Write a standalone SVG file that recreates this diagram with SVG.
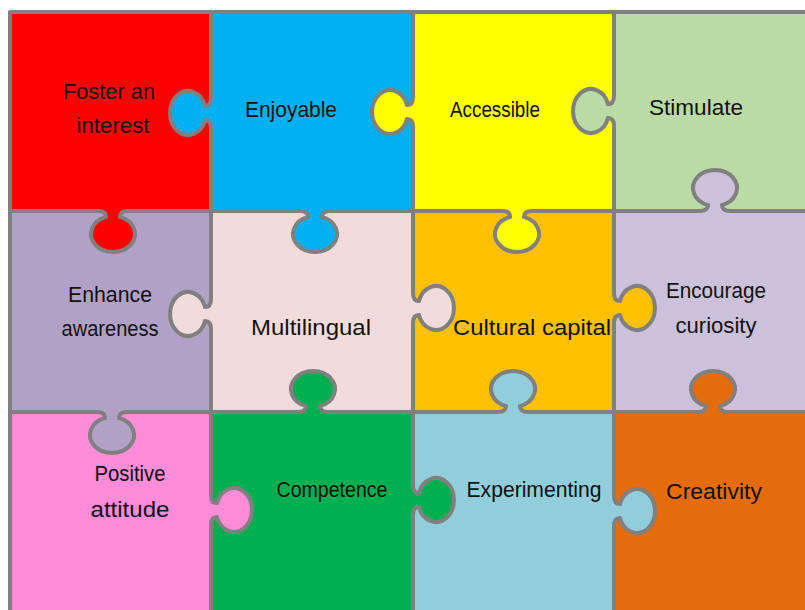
<svg xmlns="http://www.w3.org/2000/svg" xmlns:xlink="http://www.w3.org/1999/xlink" width="805" height="610" viewBox="0 0 805 610">
<style>
.ln{stroke:#808080;stroke-width:4;fill:none;stroke-linecap:round}
.ks{stroke:#808080;stroke-width:4;fill:none;stroke-linecap:round}
.lbl{font-family:"Liberation Sans","DejaVu Sans",sans-serif;font-size:22px;fill:#111;text-anchor:middle}
</style>
<defs>
<path id="kf" d="M-15,-3 L-15,0 Q-7,0 -7,5.9 A22 18 0 1 0 7,5.9 Q7,0 15,0 L15,-3 Z"/>
<path id="ks" d="M-15,0 Q-7,0 -7,5.9 A22 18 0 1 0 7,5.9 Q7,0 15,0"/>
</defs>
<rect width="805" height="610" fill="#fff"/>
<g id="backgrounds">
<rect id="bg-foster" x="10" y="12" width="201" height="199" fill="#FF0000"/>
<rect id="bg-enjoyable" x="211" y="12" width="202" height="199" fill="#00B0F0"/>
<rect id="bg-accessible" x="413" y="12" width="201" height="199" fill="#FFFF00"/>
<rect id="bg-stimulate" x="614" y="12" width="191" height="199" fill="#BADBA5"/>
<rect id="bg-enhance" x="10" y="211" width="201" height="201" fill="#B1A1C7"/>
<rect id="bg-multilingual" x="211" y="211" width="202" height="201" fill="#F2DCDB"/>
<rect id="bg-cultural" x="413" y="211" width="201" height="201" fill="#FFC000"/>
<rect id="bg-encourage" x="614" y="211" width="191" height="201" fill="#CCC1DA"/>
<rect id="bg-positive" x="10" y="412" width="201" height="198" fill="#FF8CD8"/>
<rect id="bg-competence" x="211" y="412" width="202" height="198" fill="#00B050"/>
<rect id="bg-experimenting" x="413" y="412" width="201" height="198" fill="#92CDDC"/>
<rect id="bg-creativity" x="614" y="412" width="191" height="198" fill="#E46C0A"/>
</g>
<g id="connectors">
<path class="ln" d="M10,12 H805 M10,12 V612 M211,12 V612 M413,12 V612 M614,12 V612 M10,211 H807 M10,412 H807"/>
</g>
<g id="tabs">
<g transform="translate(211,113) rotate(90)"><rect x="-15" y="0" width="30" height="3" fill="#FF0000"/><use xlink:href="#kf" fill="#00B0F0"/><use xlink:href="#ks" class="ks"/></g>
<g transform="translate(413,112) rotate(90)"><rect x="-15" y="0" width="30" height="3" fill="#00B0F0"/><use xlink:href="#kf" fill="#FFFF00"/><use xlink:href="#ks" class="ks"/></g>
<g transform="translate(614,111) rotate(90)"><rect x="-15" y="0" width="30" height="3" fill="#FFFF00"/><use xlink:href="#kf" fill="#BADBA5"/><use xlink:href="#ks" class="ks"/></g>
<g transform="translate(113,211)"><rect x="-15" y="0" width="30" height="3" fill="#B1A1C7"/><use xlink:href="#kf" fill="#FF0000"/><use xlink:href="#ks" class="ks"/></g>
<g transform="translate(315,211)"><rect x="-15" y="0" width="30" height="3" fill="#F2DCDB"/><use xlink:href="#kf" fill="#00B0F0"/><use xlink:href="#ks" class="ks"/></g>
<g transform="translate(517,211)"><rect x="-15" y="0" width="30" height="3" fill="#FFC000"/><use xlink:href="#kf" fill="#FFFF00"/><use xlink:href="#ks" class="ks"/></g>
<g transform="translate(715,211) rotate(180)"><rect x="-15" y="0" width="30" height="3" fill="#BADBA5"/><use xlink:href="#kf" fill="#CCC1DA"/><use xlink:href="#ks" class="ks"/></g>
<g transform="translate(211,314) rotate(90)"><rect x="-15" y="0" width="30" height="3" fill="#B1A1C7"/><use xlink:href="#kf" fill="#F2DCDB"/><use xlink:href="#ks" class="ks"/></g>
<g transform="translate(413,308) rotate(-90)"><rect x="-15" y="0" width="30" height="3" fill="#FFC000"/><use xlink:href="#kf" fill="#F2DCDB"/><use xlink:href="#ks" class="ks"/></g>
<g transform="translate(614,308) rotate(-90)"><rect x="-15" y="0" width="30" height="3" fill="#CCC1DA"/><use xlink:href="#kf" fill="#FFC000"/><use xlink:href="#ks" class="ks"/></g>
<g transform="translate(112,412)"><rect x="-15" y="0" width="30" height="3" fill="#FF8CD8"/><use xlink:href="#kf" fill="#B1A1C7"/><use xlink:href="#ks" class="ks"/></g>
<g transform="translate(313,412) rotate(180)"><rect x="-15" y="0" width="30" height="3" fill="#F2DCDB"/><use xlink:href="#kf" fill="#00B050"/><use xlink:href="#ks" class="ks"/></g>
<g transform="translate(513,412) rotate(180)"><rect x="-15" y="0" width="30" height="3" fill="#FFC000"/><use xlink:href="#kf" fill="#92CDDC"/><use xlink:href="#ks" class="ks"/></g>
<g transform="translate(713,412) rotate(180)"><rect x="-15" y="0" width="30" height="3" fill="#CCC1DA"/><use xlink:href="#kf" fill="#E46C0A"/><use xlink:href="#ks" class="ks"/></g>
<g transform="translate(211,510) rotate(-90)"><rect x="-15" y="0" width="30" height="3" fill="#00B050"/><use xlink:href="#kf" fill="#FF8CD8"/><use xlink:href="#ks" class="ks"/></g>
<g transform="translate(413,500) rotate(-90)"><rect x="-15" y="0" width="30" height="3" fill="#92CDDC"/><use xlink:href="#kf" fill="#00B050"/><use xlink:href="#ks" class="ks"/></g>
<g transform="translate(614,511) rotate(-90)"><rect x="-15" y="0" width="30" height="3" fill="#E46C0A"/><use xlink:href="#kf" fill="#92CDDC"/><use xlink:href="#ks" class="ks"/></g>
</g>
<g id="piece-foster"><text class="lbl" x="109" y="99" textLength="92" lengthAdjust="spacingAndGlyphs">Foster an</text><text class="lbl" x="113" y="133" textLength="73" lengthAdjust="spacingAndGlyphs">interest</text></g>
<g id="piece-enjoyable"><text class="lbl" x="291" y="117" textLength="92" lengthAdjust="spacingAndGlyphs">Enjoyable</text></g>
<g id="piece-accessible"><text class="lbl" x="495" y="117" textLength="90" lengthAdjust="spacingAndGlyphs">Accessible</text></g>
<g id="piece-stimulate"><text class="lbl" x="696" y="115" textLength="94" lengthAdjust="spacingAndGlyphs">Stimulate</text></g>
<g id="piece-enhance"><text class="lbl" x="110" y="302" textLength="84" lengthAdjust="spacingAndGlyphs">Enhance</text><text class="lbl" x="110" y="336" textLength="97" lengthAdjust="spacingAndGlyphs">awareness</text></g>
<g id="piece-multilingual"><text class="lbl" x="311" y="335" textLength="120" lengthAdjust="spacingAndGlyphs">Multilingual</text></g>
<g id="piece-cultural"><text class="lbl" x="532" y="335" textLength="158" lengthAdjust="spacingAndGlyphs">Cultural capital</text></g>
<g id="piece-encourage"><text class="lbl" x="716" y="298" textLength="100" lengthAdjust="spacingAndGlyphs">Encourage</text><text class="lbl" x="716" y="333" textLength="81" lengthAdjust="spacingAndGlyphs">curiosity</text></g>
<g id="piece-positive"><text class="lbl" x="130" y="481" textLength="71" lengthAdjust="spacingAndGlyphs">Positive</text><text class="lbl" x="130" y="517" textLength="79" lengthAdjust="spacingAndGlyphs">attitude</text></g>
<g id="piece-competence"><text class="lbl" x="332" y="497" textLength="111" lengthAdjust="spacingAndGlyphs">Competence</text></g>
<g id="piece-experimenting"><text class="lbl" x="534" y="497" textLength="135" lengthAdjust="spacingAndGlyphs">Experimenting</text></g>
<g id="piece-creativity"><text class="lbl" x="714" y="499" textLength="96" lengthAdjust="spacingAndGlyphs">Creativity</text></g>
</svg>
